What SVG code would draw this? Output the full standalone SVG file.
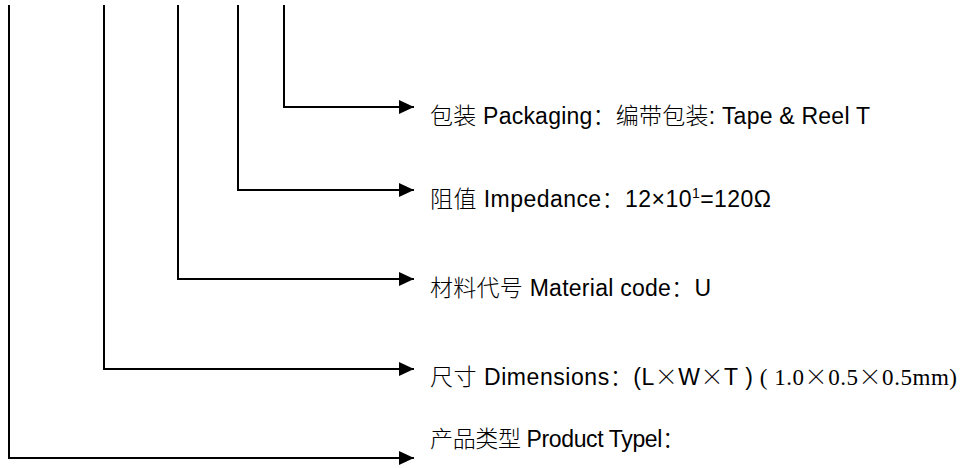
<svg xmlns="http://www.w3.org/2000/svg" width="960" height="468" viewBox="0 0 960 468">
<defs>
<marker id="arr" markerUnits="userSpaceOnUse" markerWidth="16" markerHeight="14" refX="15" refY="7" orient="auto">
<path d="M0,0 L15,7 L0,14 z" fill="#000"/>
</marker>
<style>
.c{fill:none;stroke:#000;stroke-width:2;marker-end:url(#arr)}
.t{font-family:"Liberation Sans","Noto Sans CJK SC",sans-serif;font-size:23px;fill:#000}
.s{font-family:"Liberation Serif","Noto Sans CJK SC",serif}
.k{font-family:"Noto Sans CJK SC",sans-serif;font-weight:300}
</style>
</defs>
<rect width="960" height="468" fill="#fff"/>
<g id="connectors">
<polyline class="c" points="284,5 284,107 414,107"/>
<polyline class="c" points="238,5 238,190 414,190"/>
<polyline class="c" points="178,5 178,279 414,279"/>
<polyline class="c" points="104,5 104,369 414,369"/>
<polyline class="c" points="9,5 9,458 414,458"/>
</g>
<g id="packaging"><text class="t" x="430" y="124" textLength="440" lengthAdjust="spacing"><tspan class="k">包装</tspan> Packaging<tspan class="k">：编带包装</tspan>: Tape &amp; Reel T</text></g>
<g id="impedance"><text class="t" x="430" y="207" textLength="341" lengthAdjust="spacing"><tspan class="k">阻值</tspan> Impedance<tspan class="k">：</tspan>12×10<tspan font-size="14" dy="-9">1</tspan><tspan dy="9">=120Ω</tspan></text></g>
<g id="material"><text class="t" x="430" y="296" textLength="281" lengthAdjust="spacing"><tspan class="k">材料代号</tspan> Material code<tspan class="k">：</tspan>U</text></g>
<g id="dimensions"><text class="t" x="430" y="385" textLength="527" lengthAdjust="spacing"><tspan class="k">尺寸</tspan> Dimensions<tspan class="k">：</tspan>(L<tspan class="k">×</tspan>W<tspan class="k">×</tspan>T )<tspan class="s"> ( 1.0<tspan class="k">×</tspan>0.5<tspan class="k">×</tspan>0.5mm)</tspan></text></g>
<g id="product"><text class="t" x="430" y="447" textLength="255" lengthAdjust="spacing"><tspan class="k">产品类型</tspan> Product Typel<tspan class="k">：</tspan></text></g>
</svg>
